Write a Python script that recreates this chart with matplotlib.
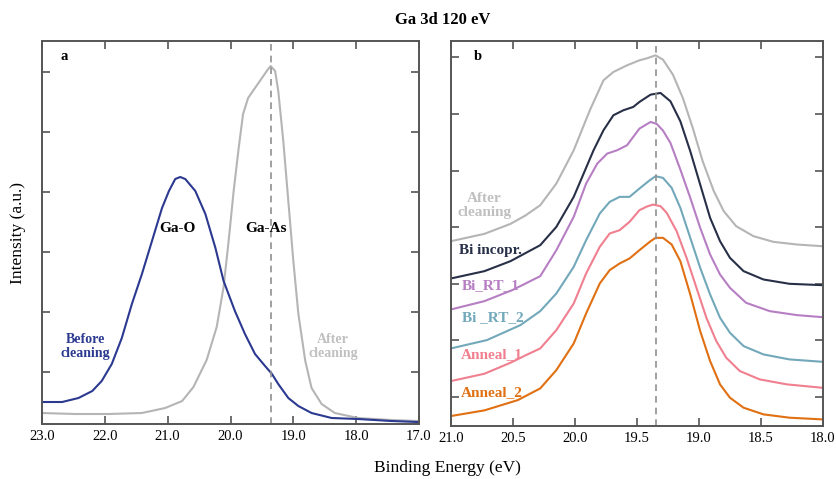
import matplotlib
matplotlib.use("Agg")
import matplotlib.pyplot as plt

plt.rcParams['font.family'] = ['Liberation Serif', 'DejaVu Serif']
plt.rcParams['lines.solid_joinstyle'] = 'round'

# ---- panel a : Ga 3d before / after cleaning ----
before_E = [23.00, 22.68, 22.42, 22.20, 22.05, 21.89, 21.73, 21.57, 21.41, 21.25,
            21.09, 20.98, 20.88, 20.80, 20.72, 20.56, 20.40, 20.24, 20.11, 19.93,
            19.77, 19.61, 19.45, 19.34, 19.24, 19.08, 18.92, 18.71, 18.39, 17.97,
            17.44, 17.01]
before_I = [22, 22, 26, 33, 43, 60, 86, 120, 150, 183,
            216, 233, 245, 247, 245, 233, 210, 176, 143, 113,
            90, 70, 58, 50, 40, 26, 18, 11, 6, 5,
            3, 2]

after_E = [23.00, 22.47, 21.94, 21.41, 21.04, 20.77, 20.59, 20.38, 20.22, 20.11,
           20.03, 19.95, 19.87, 19.80, 19.72, 19.61, 19.50, 19.40, 19.36, 19.29,
           19.24, 19.16, 19.08, 19.00, 18.92, 18.81, 18.71, 18.55, 18.34, 17.97,
           17.44, 17.01]
after_I = [11, 10, 10, 11, 16, 23, 37, 64, 97, 137,
           183, 233, 276, 310, 326, 336, 346, 355, 358, 353,
           333, 283, 223, 163, 110, 63, 36, 20, 11, 6,
           4, 3]

# ---- panel b : stacked spectra ----
clean_E = [21.00, 20.73, 20.52, 20.40, 20.28, 20.15, 20.01, 19.88, 19.77, 19.69,
           19.58, 19.48, 19.42, 19.35, 19.29, 19.21, 19.13, 19.05, 18.97, 18.88,
           18.80, 18.70, 18.56, 18.40, 18.21, 18.01]
clean_I = [468, 490, 520, 545, 576, 641, 741, 861, 951, 976,
           996, 1011, 1017, 1026, 1013, 968, 898, 808, 708, 618,
           558, 513, 483, 466, 458, 453]

bi_E = [21.00, 20.73, 20.52, 20.40, 20.28, 20.15, 20.01, 19.93, 19.85, 19.77,
        19.69, 19.61, 19.53, 19.48, 19.39, 19.31, 19.23, 19.15, 19.07, 18.99,
        18.91, 18.83, 18.75, 18.64, 18.48, 18.27, 18.01]
bi_I = [356, 378, 408, 432, 456, 511, 601, 671, 741, 801,
        846, 861, 871, 886, 908, 913, 888, 828, 738, 638,
        538, 468, 418, 378, 353, 340, 336]

rt1_E = [21.00, 20.73, 20.50, 20.28, 20.15, 20.01, 19.91, 19.82, 19.74, 19.66,
         19.58, 19.48, 19.39, 19.34, 19.29, 19.23, 19.15, 19.07, 18.99, 18.91,
         18.83, 18.75, 18.62, 18.43, 18.21, 18.01]
rt1_I = [263, 288, 322, 363, 441, 541, 641, 701, 731, 741,
         756, 806, 826, 820, 800, 763, 683, 598, 508, 428,
         368, 328, 283, 258, 246, 240]

rt2_E = [21.00, 20.71, 20.44, 20.28, 20.15, 20.01, 19.91, 19.80, 19.72, 19.64,
         19.56, 19.48, 19.40, 19.35, 19.29, 19.22, 19.15, 19.07, 18.99, 18.91,
         18.83, 18.75, 18.64, 18.48, 18.27, 18.01]
rt2_I = [146, 171, 216, 258, 311, 391, 471, 551, 586, 601,
         601, 626, 650, 663, 658, 628, 568, 478, 388, 308,
         238, 193, 153, 128, 113, 106]

an1_E = [21.00, 20.73, 20.52, 20.40, 20.28, 20.15, 20.01, 19.91, 19.80, 19.72,
         19.64, 19.56, 19.48, 19.42, 19.37, 19.31, 19.26, 19.18, 19.10, 19.02,
         18.94, 18.86, 18.78, 18.67, 18.51, 18.29, 18.01]
an1_I = [48, 70, 103, 125, 146, 201, 281, 371, 451, 491,
         501, 526, 561, 572, 578, 573, 553, 498, 418, 328,
         238, 168, 118, 78, 53, 38, 28]

an2_E = [21.00, 20.73, 20.46, 20.28, 20.15, 20.01, 19.91, 19.80, 19.72, 19.64,
         19.56, 19.48, 19.39, 19.35, 19.29, 19.22, 19.15, 19.07, 18.99, 18.91,
         18.83, 18.75, 18.64, 18.48, 18.27, 18.01]
an2_I = [-57, -40, -9, 26, 81, 161, 251, 341, 381, 401,
         416, 441, 468, 478, 478, 458, 408, 308, 198, 108,
         38, -2, -32, -52, -62, -67]

peak_pos = 19.35
spine_col = '#555555'

fig = plt.figure(figsize=(8.37, 4.79), dpi=100)
ax1 = fig.add_axes([0.0502, 0.1148, 0.4504, 0.7996])
ax2 = fig.add_axes([0.5388, 0.1106, 0.4444, 0.8038])


def style(ax):
    for s in ax.spines.values():
        s.set_color(spine_col)
        s.set_linewidth(1.4)
    ax.tick_params(direction='in', length=6, width=1.2, color=spine_col,
                   top=True, right=True, labelsize=10.5, pad=4)
    ax.set_yticklabels([])


# panel a
ax1.plot(after_E, after_I, color='#b5b5b5', lw=1.5)
ax1.plot(before_E, before_I, color='#2b3990', lw=1.5)
ax1.axvline(peak_pos, color='#909090', ls=(0, (4, 3)), lw=1.2)
ax1.set_xlim(23, 17)
ax1.set_ylim(0, 383)
ax1.set_xticks([23, 22, 21, 20, 19, 18, 17])
ax1.set_xticklabels(['23.0', '22.0', '21.0', '20.0', '19.0', '18.0', '17.0'])
ax1.set_yticks([52, 112, 172, 232, 292, 352])
style(ax1)
ax1.text(22.65, 368, 'a', fontsize=10.5, fontweight='bold', ha='center', va='center')
ax1.text(20.84, 196, 'Ga-O', fontsize=11, fontweight='bold', ha='center', va='center')
ax1.text(19.44, 196, 'Ga-As', fontsize=11, fontweight='bold', ha='center', va='center')
ax1.text(22.31, 78, 'Before\ncleaning', fontsize=10, fontweight='bold', color='#2b3990',
         ha='center', va='center', linespacing=1.1)
ax1.text(18.37, 78, 'After\ncleaning', fontsize=10, fontweight='bold', color='#c0c0c0',
         ha='center', va='center', linespacing=1.1)

# panel b
series = [(clean_E, clean_I, '#b5b5b5'),
          (bi_E, bi_I, '#283048'),
          (rt1_E, rt1_I, '#b77fc3'),
          (rt2_E, rt2_I, '#72a8ba'),
          (an1_E, an1_I, '#f07f8f'),
          (an2_E, an2_I, '#e07012')]
for e, i, c in series:
    ax2.plot(e, i, color=c, lw=1.5)
ax2.axvline(peak_pos, color='#909090', ls=(0, (4, 3)), lw=1.2)
ax2.set_xlim(21, 18)
ax2.set_ylim(-87, 1069)
ax2.set_xticks([21, 20.5, 20, 19.5, 19, 18.5, 18])
ax2.set_xticklabels(['21.0', '20.5', '20.0', '19.5', '19.0', '18.5', '18.0'])
ax2.set_yticks([0, 170, 340, 510, 680, 850, 1020])
style(ax2)
ax2.text(20.785, 1023, 'b', fontsize=10.5, fontweight='bold', ha='center', va='center')
ax2.text(20.73, 576, 'After\ncleaning', fontsize=11, fontweight='bold', color='#c0c0c0',
         ha='center', va='center', linespacing=1.1)
labels_b = ['Bi incopr.', 'Bi_RT_1', 'Bi _RT_2', 'Anneal_1', 'Anneal_2']
label_x = [20.935, 20.91, 20.91, 20.92, 20.92]
label_y = [441, 336, 237, 126, 13]
for (e, i, c), t, xx, yy in zip(series[1:], labels_b, label_x, label_y):
    ax2.text(xx, yy, t, fontsize=11, fontweight='bold', color=c, ha='left', va='center')

fig.text(0.529, 0.958, 'Ga 3d 120 eV', fontsize=12, fontweight='bold', ha='center', va='center')
fig.text(0.535, 0.022, 'Binding Energy (eV)', fontsize=12.5, ha='center', va='center')
fig.text(0.022, 0.514, 'Intensity (a.u.)', fontsize=12.5, ha='center', va='center', rotation=90)

fig.savefig('out.png', dpi=100)
